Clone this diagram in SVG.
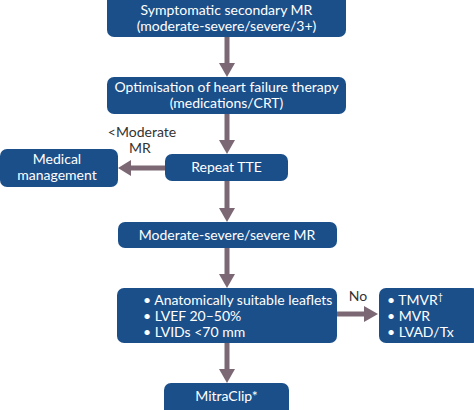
<svg xmlns="http://www.w3.org/2000/svg" width="474" height="410" viewBox="0 0 474 410">
<defs>
<style>
.box{fill:#1b4f8a;}
.t{font-family:Lato,"Open Sans",sans-serif;font-size:14px;fill:#ffffff;text-anchor:middle;}
.tl{font-family:Lato,"Open Sans",sans-serif;font-size:14px;fill:#ffffff;}
.lbl{font-family:Lato,"Open Sans",sans-serif;font-size:14px;fill:#333333;text-anchor:middle;}
.c{stroke:#7b6874;stroke-width:5;fill:none;}
.h{fill:#7b6874;}
</style>
</defs>
<rect width="474" height="410" fill="#ffffff"/>
<g id="connectors">
<line class="c" x1="227" y1="37" x2="227" y2="64"/>
<polygon class="h" points="219,63 235,63 227,77"/>
<line class="c" x1="227" y1="114" x2="227" y2="141"/>
<polygon class="h" points="219,140 235,140 227,154"/>
<line class="c" x1="165" y1="168" x2="130" y2="168"/>
<polygon class="h" points="131,160 131,176 118,168"/>
<line class="c" x1="227" y1="181" x2="227" y2="209"/>
<polygon class="h" points="219,208 235,208 227,222"/>
<line class="c" x1="227" y1="248" x2="227" y2="275"/>
<polygon class="h" points="219,274 235,274 227,288"/>
<line class="c" x1="337" y1="314" x2="365" y2="314"/>
<polygon class="h" points="364,306 364,322 378,314"/>
<line class="c" x1="227" y1="343" x2="227" y2="370"/>
<polygon class="h" points="219,369 235,369 227,383"/>
<text class="lbl" x="142" y="137">&lt;Moderate</text>
<text class="lbl" x="140" y="153">MR</text>
<text class="lbl" x="358" y="301">No</text>
</g>
<g id="n1">
<rect class="box" x="107" y="-8" width="239" height="45" rx="7"/>
<text class="t" x="226.5" y="15">Symptomatic secondary MR</text>
<text class="t" x="226.5" y="31">(moderate-severe/severe/3+)</text>
</g>
<g id="n2">
<rect class="box" x="107" y="77" width="239" height="37" rx="7"/>
<text class="t" x="226.5" y="92">Optimisation of heart failure therapy</text>
<text class="t" x="226.5" y="108">(medications/CRT)</text>
</g>
<g id="n3">
<rect class="box" x="165" y="154" width="123" height="27" rx="7"/>
<text class="t" x="226.5" y="172">Repeat TTE</text>
</g>
<g id="n4">
<rect class="box" x="0" y="149" width="118" height="38" rx="7"/>
<text class="t" x="57" y="164">Medical</text>
<text class="t" x="57" y="180">management</text>
</g>
<g id="n5">
<rect class="box" x="118" y="222" width="219" height="26" rx="7"/>
<text class="t" x="227" y="240">Moderate-severe/severe MR</text>
</g>
<g id="n6">
<rect class="box" x="117" y="288" width="220" height="55" rx="7"/>
<text class="tl" x="143" y="305">• Anatomically suitable leaflets</text>
<text class="tl" x="143" y="321">• LVEF 20–50%</text>
<text class="tl" x="143" y="337">• LVIDs &lt;70 mm</text>
</g>
<g id="n7">
<rect class="box" x="379" y="288" width="100" height="55" rx="7"/>
<text class="tl" x="387" y="305">• TMVR<tspan font-size="9" dy="-5">†</tspan></text>
<text class="tl" x="387" y="321">• MVR</text>
<text class="tl" x="387" y="337">• LVAD/Tx</text>
</g>
<g id="n8">
<rect class="box" x="164" y="383" width="125" height="35" rx="7"/>
<text class="t" x="226.5" y="401">MitraClip*</text>
</g>
</svg>
